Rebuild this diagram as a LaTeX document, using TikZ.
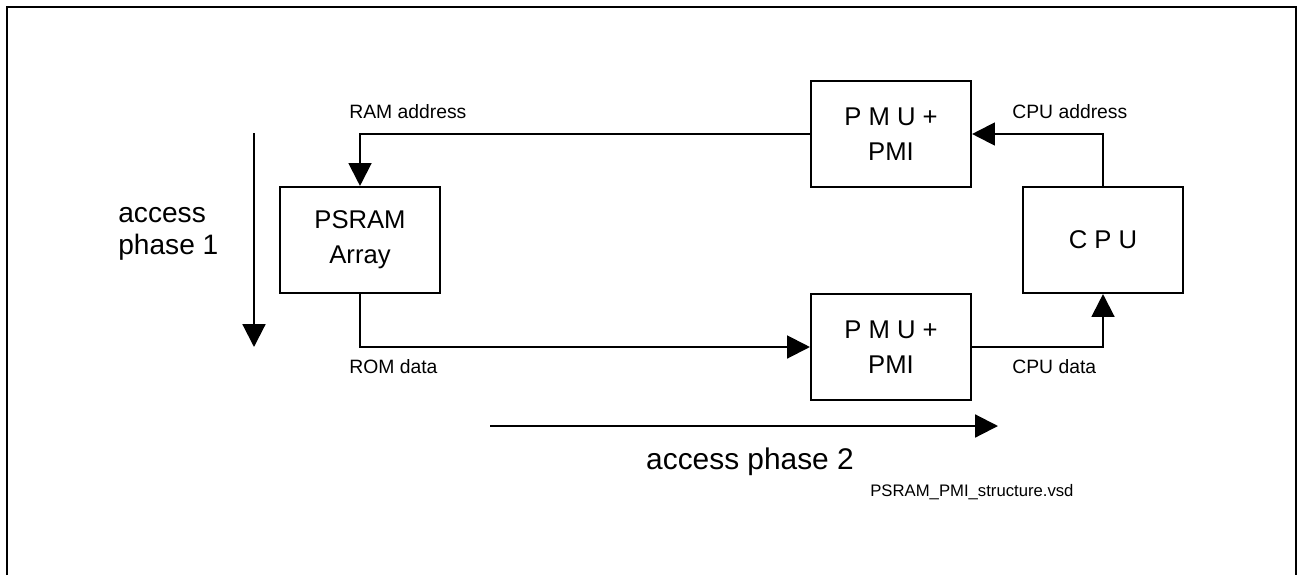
\documentclass[tikz,border=0pt]{standalone}
\usepackage{fontspec}
\setmainfont{Liberation Sans}
\usepackage{tikz}
\usetikzlibrary{arrows.meta,positioning,calc}

\tikzset{
    blockbox/.style={draw=black,line width=1.2pt,minimum width=3.2cm,minimum height=2.12cm,
                     align=center,inner sep=0pt,font=\fontsize{14.6}{20}\selectfont},
    flow/.style={line width=1.2pt,-{Triangle[length=13pt,width=13pt]}},
    sig/.style={anchor=west,inner sep=0pt,font=\fontsize{11}{13}\selectfont},
}

\begin{document}
\begin{tikzpicture}[x=0.02cm,y=-0.02cm]
        \useasboundingbox (0,0) rectangle (1297,575);
        % frame, open at the bottom
        \draw[line width=1.6pt] (7,575) -- (7,7) -- (1296,7) -- (1296,575);

        \node[blockbox] (psram) at (360,240) {PSRAM\\Array};
        \node[blockbox] (pmutop) at (891,134) {P M U +\\PMI};
        \node[blockbox] (pmubot) at (891,347) {P M U +\\PMI};
        \node[blockbox] (cpu) at (1103,240) {C P U};

        \draw[flow] (pmutop.west) -| (psram.north);
        \draw[flow] (cpu.north) |- (pmutop.east);
        \draw[flow] (psram.south) |- (pmubot.west);
        \draw[flow] (pmubot.east) -| (cpu.south);

        \node[sig] (ramaddr) at (349,112) {RAM address};
        \node[sig] (cpuaddr) at (1012,112) {CPU address};
        \node[sig] (romdata) at (349,367) {ROM data};
        \node[sig] (cpudata) at (1012,367) {CPU data};

        % access phases
        \coordinate (ph1a) at (254,133);
        \coordinate (ph1b) at (254,347);
        \coordinate (ph2a) at (490,426);
        \coordinate (ph2b) at (998,426);
        \draw[flow] (ph1a) -- (ph1b);
        \draw[flow] (ph2a) -- (ph2b);
        \node[anchor=west,align=left,inner sep=0pt,font=\fontsize{16}{18}\selectfont] (phase1) at (118,234) {access\\phase 1};
        \node[inner sep=0pt,font=\fontsize{17}{19}\selectfont] (phase2) at (750,462) {access phase 2};

        \node[sig,font=\fontsize{9.5}{11}\selectfont] (fname) at (870,492) {PSRAM\_PMI\_structure.vsd};
    \end{tikzpicture}
\end{document}
